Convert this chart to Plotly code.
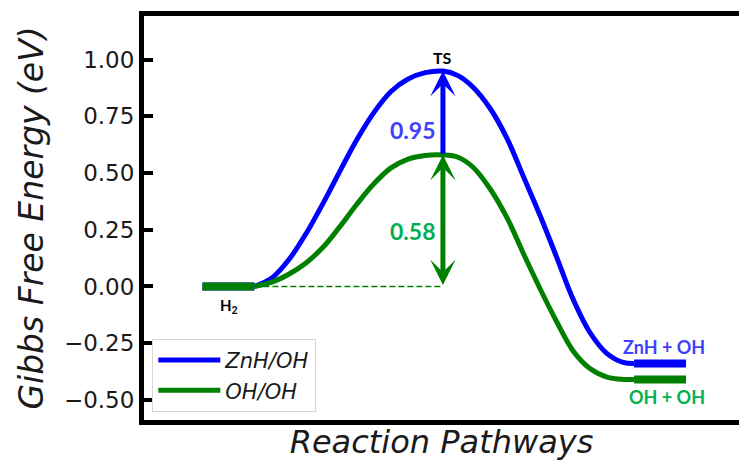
import plotly.graph_objects as go

# Reaction coordinate positions along the pathway (initial bar spans 0-1, TS at 4.63)
x_path = [1.0, 1.35, 1.67, 2.0, 2.33, 2.65, 2.98, 3.31, 3.63, 3.96, 4.29, 4.63,
          4.92, 5.21, 5.54, 5.87, 6.17, 6.5, 6.83, 7.13, 7.46, 7.79, 8.1, 8.31]

# Gibbs free energy profile (eV) for each mechanism
g_znh_oh = [0.0, 0.04, 0.12, 0.235, 0.37, 0.51, 0.65, 0.77, 0.86, 0.915, 0.943, 0.95,
            0.93, 0.879, 0.785, 0.65, 0.49, 0.313, 0.123, -0.053, -0.203, -0.296, -0.335, -0.34]
g_oh_oh = [0.0, 0.02, 0.055, 0.105, 0.175, 0.265, 0.365, 0.455, 0.523, 0.562, 0.578, 0.58,
           0.57, 0.526, 0.43, 0.30, 0.15, -0.01, -0.16, -0.282, -0.362, -0.40, -0.41, -0.41]

# Stationary-state levels
level_initial_x = [0.0, 1.0]
level_final_x = [8.31, 9.31]
e_initial = 0.0
e_ts_znh = 0.95
e_ts_oh = 0.58
e_final_znh = -0.34
e_final_oh = -0.41
x_ts = 4.63

y_ticks = [-0.50, -0.25, 0.00, 0.25, 0.50, 0.75, 1.00]

BLUE = "#0000ff"
GREEN = "#008000"
BLUE_TXT = "#4040ff"
GREEN_TXT = "#00b050"

fig = go.Figure()

fig.add_trace(go.Scatter(x=x_path, y=g_znh_oh, mode="lines", name="ZnH/OH",
                         line=dict(color=BLUE, width=5, shape="spline", smoothing=1.0)))
fig.add_trace(go.Scatter(x=x_path, y=g_oh_oh, mode="lines", name="OH/OH",
                         line=dict(color=GREEN, width=5, shape="spline", smoothing=1.0)))

# reference line at the initial-state energy
fig.add_trace(go.Scatter(x=[level_initial_x[1], x_ts], y=[e_initial, e_initial], mode="lines",
                         showlegend=False, line=dict(color=GREEN, width=1.5, dash="6px,3px")))

# flat state bars
fig.add_trace(go.Scatter(x=level_initial_x, y=[e_initial, e_initial], mode="lines",
                         showlegend=False, line=dict(color=BLUE, width=8)))
fig.add_trace(go.Scatter(x=level_initial_x, y=[e_initial, e_initial], mode="lines",
                         showlegend=False, line=dict(color=GREEN, width=8)))
fig.add_trace(go.Scatter(x=level_final_x, y=[e_final_znh, e_final_znh], mode="lines",
                         showlegend=False, line=dict(color=BLUE, width=8)))
fig.add_trace(go.Scatter(x=level_final_x, y=[e_final_oh, e_final_oh], mode="lines",
                         showlegend=False, line=dict(color=GREEN, width=8)))

# barrier arrows
fig.add_annotation(x=x_ts, y=e_ts_znh, ax=x_ts, ay=e_ts_oh, axref="x", ayref="y",
                   xref="x", yref="y", text="", showarrow=True, arrowhead=3,
                   arrowsize=0.85, arrowwidth=5, arrowcolor=BLUE)
fig.add_annotation(x=x_ts, y=e_ts_oh, ax=x_ts, ay=e_initial, axref="x", ayref="y",
                   xref="x", yref="y", text="", showarrow=True, arrowhead=3, startarrowhead=3,
                   arrowside="end+start", arrowsize=0.85, startarrowsize=0.85,
                   arrowwidth=5, arrowcolor=GREEN)

lab_font = dict(family="Lato, Open Sans, sans-serif", weight="bold")
fig.add_annotation(x=x_ts, y=e_ts_znh, text="TS", showarrow=False, yshift=14,
                   font=dict(size=16, color="black", **lab_font))
fig.add_annotation(x=x_ts - 0.59, y=0.69, text=f"{e_ts_znh:.2f}",
                   showarrow=False, font=dict(size=23, color=BLUE_TXT, **lab_font))
fig.add_annotation(x=x_ts - 0.59, y=0.245, text=f"{e_ts_oh:.2f}",
                   showarrow=False, font=dict(size=23, color=GREEN_TXT, **lab_font))
fig.add_annotation(x=0.52, y=e_initial, text="H<sub>2</sub>", showarrow=False, yshift=-20,
                   font=dict(size=15, color="black", **lab_font))
fig.add_annotation(x=8.88, y=e_final_znh, text="ZnH + OH", showarrow=False, yshift=17,
                   font=dict(size=18, color=BLUE_TXT, **lab_font))
fig.add_annotation(x=8.94, y=e_final_oh, text="OH + OH", showarrow=False, yshift=-18,
                   font=dict(size=18, color=GREEN_TXT, **lab_font))

fig.update_layout(
    width=739, height=461,
    margin=dict(l=144, r=0, t=16, b=41),
    paper_bgcolor="white", plot_bgcolor="white",
    font=dict(family="DejaVu Sans", color="#1a1a1a"),
    showlegend=True,
    legend=dict(x=0.014, y=0.02, xanchor="left", yanchor="bottom",
                bgcolor="white", bordercolor="#d6d6d6", borderwidth=1,
                font=dict(size=21, style="italic", color="#1a1a1a"),
                itemwidth=62, tracegroupgap=0),
)
fig.update_xaxes(range=[-1.125, 10.33], showgrid=False, zeroline=False,
                 showticklabels=False, ticks="",
                 showline=True, linecolor="black", linewidth=5, mirror=True,
                 title=dict(text="Reaction Pathways", standoff=10,
                            font=dict(size=32, style="italic", color="#1a1a1a")))
fig.update_yaxes(range=[-0.589, 1.193], showgrid=False, zeroline=False,
                 tickvals=y_ticks, tickformat=".2f",
                 ticks="inside", ticklen=9, tickwidth=4, tickcolor="black",
                 tickfont=dict(size=23, color="#1a1a1a"),
                 showline=True, linecolor="black", linewidth=5, mirror=False,
                 title=dict(text="Gibbs Free Energy (eV)", standoff=12,
                            font=dict(size=33, style="italic", color="#1a1a1a")))

fig.write_html("out.html")
